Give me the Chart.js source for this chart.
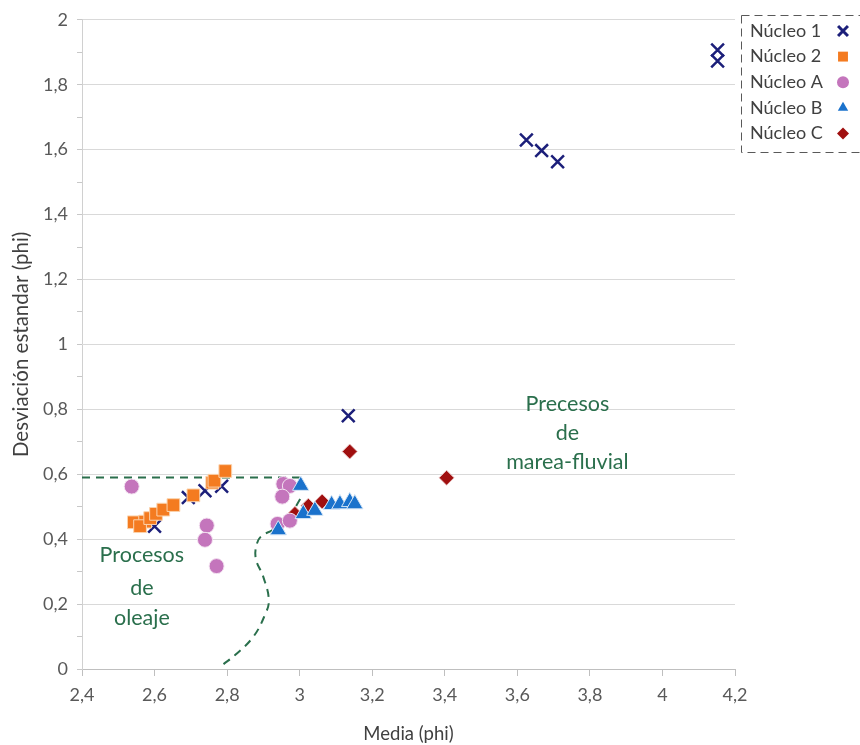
<!DOCTYPE html>
<html>
<head>
<meta charset="utf-8">
<script src="https://cdn.jsdelivr.net/npm/chart.js@4.4.1/dist/chart.umd.min.js"></script>
<style>
  html, body { margin: 0; padding: 0; background: #fff; }
  #wrap { width: 860px; height: 745px; }
</style>
</head>
<body>
<div id="wrap"><canvas id="chart" width="860" height="745"></canvas></div>
<script>
// valores (media vs desviacion estandar, phi)
var seriesNames = ['Núcleo 1', 'Núcleo 2', 'Núcleo A', 'Núcleo B', 'Núcleo C'];

var n1X = [4.152, 4.152, 3.625, 3.667, 3.711, 3.134, 2.693, 2.739, 2.785, 2.600];
var n1Y = [1.907, 1.873, 1.630, 1.597, 1.563, 0.780, 0.528, 0.549, 0.563, 0.440];

var n2X = [2.543, 2.574, 2.560, 2.588, 2.604, 2.624, 2.652, 2.707, 2.759, 2.765, 2.795];
var n2Y = [0.452, 0.454, 0.440, 0.465, 0.478, 0.491, 0.505, 0.535, 0.574, 0.580, 0.610];

var nAX = [2.537, 2.744, 2.739, 2.771, 2.955, 2.973, 2.952, 2.939, 2.973];
var nAY = [0.562, 0.442, 0.398, 0.317, 0.570, 0.564, 0.531, 0.447, 0.457];

var nBX = [2.941, 3.003, 3.010, 3.042, 3.088, 3.111, 3.138, 3.152];
var nBY = [0.428, 0.565, 0.478, 0.488, 0.506, 0.508, 0.515, 0.508];

var nCX = [2.987, 3.024, 3.062, 3.138, 3.405];
var nCY = [0.478, 0.503, 0.516, 0.670, 0.589];

// limites dibujados a mano (lineas verdes discontinuas)
var waveLimitX = [2.4, 3.0];
var waveLimitY = [0.59, 0.59];
var tideLimitX = [2.790, 2.822, 2.872, 2.904, 2.915, 2.900, 2.879, 2.882, 2.895, 2.925, 2.965, 3.005];
var tideLimitY = [0.015, 0.043, 0.099, 0.166, 0.212, 0.283, 0.340, 0.386, 0.410, 0.428, 0.460, 0.530];

var xTickLabels = ['2,4', '2,6', '2,8', '3', '3,2', '3,4', '3,6', '3,8', '4', '4,2'];
var yTickLabels = ['0', '0,2', '0,4', '0,6', '0,8', '1', '1,2', '1,4', '1,6', '1,8', '2'];

var noteLabels = [['Procesos', 'de', 'oleaje'], ['Precesos', 'de', 'marea-fluvial']];

var FONT = 'Lato, "Open Sans", sans-serif';
var GREEN = '#2a6f4c';

function pts(xs, ys) {
    var out = [];
    for (var i = 0; i < xs.length; i++) {
        out.push({ x: xs[i], y: ys[i] });
    }
    return out;
}

function markerSet(name, xs, ys, style, color, radius, border, bw, order) {
    return {
        label: name,
        data: pts(xs, ys),
        pointStyle: style,
        pointRadius: radius,
        pointHoverRadius: radius,
        backgroundColor: color,
        borderColor: border,
        pointBorderWidth: bw,
        showLine: false,
        order: order,
        inLegend: true
    };
}

function limitSet(xs, ys, tension) {
    return {
        label: 'limite',
        data: pts(xs, ys),
        showLine: true,
        borderColor: GREEN,
        borderWidth: 2,
        borderDash: [8, 6],
        pointRadius: 0,
        tension: tension,
        fill: false,
        order: 9,
        inLegend: false
    };
}

// texto de las zonas, posicionado en coordenadas de datos
var notesPlugin = {
    id: 'notes',
    afterDatasetsDraw: function(chart) {
        var ctx = chart.ctx;
        var xs = chart.scales.x, ys = chart.scales.y;
        var spots = [
            { x: 2.565, y: [0.350, 0.248, 0.156] },
            { x: 3.738, y: [0.816, 0.727, 0.638] }
        ];
        ctx.save();
        ctx.font = '21.5px ' + FONT;
        ctx.fillStyle = GREEN;
        ctx.textAlign = 'center';
        ctx.textBaseline = 'middle';
        spots.forEach(function(s, k) {
            noteLabels[k].forEach(function(txt, j) {
                ctx.fillText(txt, xs.getPixelForValue(s.x), ys.getPixelForValue(s.y[j]));
            });
        });
        ctx.restore();
    }
};

// leyenda con borde discontinuo, texto a la izquierda y marcador a la derecha
var legendPlugin = {
    id: 'boxLegend',
    afterDraw: function(chart) {
        var ctx = chart.ctx;
        ctx.save();
        ctx.setLineDash([8, 5]);
        ctx.strokeStyle = '#595959';
        ctx.lineWidth = 1;
        ctx.strokeRect(741.5, 15.5, 140, 137);
        ctx.setLineDash([]);
        var row = 0;
        chart.data.datasets.forEach(function(ds) {
            if (!ds.inLegend) return;
            var y = 31 + row * 25.6;
            var cross = ds.pointStyle === 'crossRot';
            ctx.font = '18px ' + FONT;
            ctx.fillStyle = '#404040';
            ctx.textAlign = 'left';
            ctx.textBaseline = 'middle';
            ctx.fillText(ds.label, 750, y);
            ctx.fillStyle = ds.backgroundColor;
            ctx.strokeStyle = ds.backgroundColor;
            ctx.lineWidth = cross ? 3 : 1;
            Chart.helpers.drawPoint(ctx, {
                pointStyle: ds.pointStyle,
                rotation: 0,
                radius: cross ? 7 : (ds.pointStyle === 'rect' ? 7 : 6),
                borderWidth: cross ? 3 : 0
            }, 843, y);
            row++;
        });
        ctx.restore();
    }
};

var chart = new Chart(document.getElementById('chart'), {
    type: 'scatter',
    data: {
        datasets: [
            markerSet(seriesNames[0], n1X, n1Y, 'crossRot', '#1c1f7a', 9, '#1c1f7a', 2.5, 3),
            markerSet(seriesNames[1], n2X, n2Y, 'rect', '#f47b20', 9, '#fbd3ad', 1, 1),
            markerSet(seriesNames[2], nAX, nAY, 'circle', '#c475bc', 7.5, '#f3e3f1', 1, 2),
            markerSet(seriesNames[3], nBX, nBY, 'triangle', '#1a72cc', 9.5, '#d5e6f6', 1, 0),
            markerSet(seriesNames[4], nCX, nCY, 'rectRot', '#a00f0f', 7.5, '#e8c2c2', 1, 4),
            limitSet(waveLimitX, waveLimitY, 0),
            limitSet(tideLimitX, tideLimitY, 0.4)
        ]
    },
    options: {
        responsive: false,
        animation: false,
        layout: { padding: { top: 17, right: 125, left: 0, bottom: 0 } },
        plugins: {
            legend: { display: false },
            tooltip: { enabled: false }
        },
        scales: {
            x: {
                type: 'linear',
                min: 2.4,
                max: 4.2,
                afterFit: function(scale) { scale.height = 76; },
                ticks: {
                    stepSize: 0.2,
                    padding: 8,
                    color: '#595959',
                    font: { family: FONT, size: 18 },
                    callback: function(v, i) { return xTickLabels[i]; }
                },
                grid: {
                    drawOnChartArea: false,
                    drawTicks: true,
                    tickLength: 7,
                    tickColor: '#bfbfbf'
                },
                border: { color: '#bfbfbf' },
                title: {
                    display: true,
                    text: 'Media (phi)',
                    color: '#404040',
                    font: { family: FONT, size: 18.5 },
                    padding: { top: 2, bottom: 0 }
                }
            },
            y: {
                type: 'linear',
                min: 0,
                max: 2,
                afterFit: function(scale) { scale.width = 82; },
                ticks: {
                    stepSize: 0.1,
                    autoSkip: false,
                    maxTicksLimit: 30,
                    padding: 9,
                    color: '#595959',
                    font: { family: FONT, size: 18 },
                    callback: function(v, i) { return i % 2 === 0 ? yTickLabels[i / 2] : ''; }
                },
                grid: {
                    color: function(c) { return c.index % 2 === 0 ? '#d9d9d9' : 'rgba(0,0,0,0)'; },
                    tickColor: '#c8c8c8',
                    tickLength: 5
                },
                border: { color: '#d0d0d0' },
                title: {
                    display: true,
                    text: 'Desviación estandar (phi)',
                    color: '#404040',
                    font: { family: FONT, size: 20.5 },
                    padding: { top: 9, bottom: 0 }
                }
            }
        }
    },
    plugins: [notesPlugin, legendPlugin]
});
</script>
</body>
</html>
